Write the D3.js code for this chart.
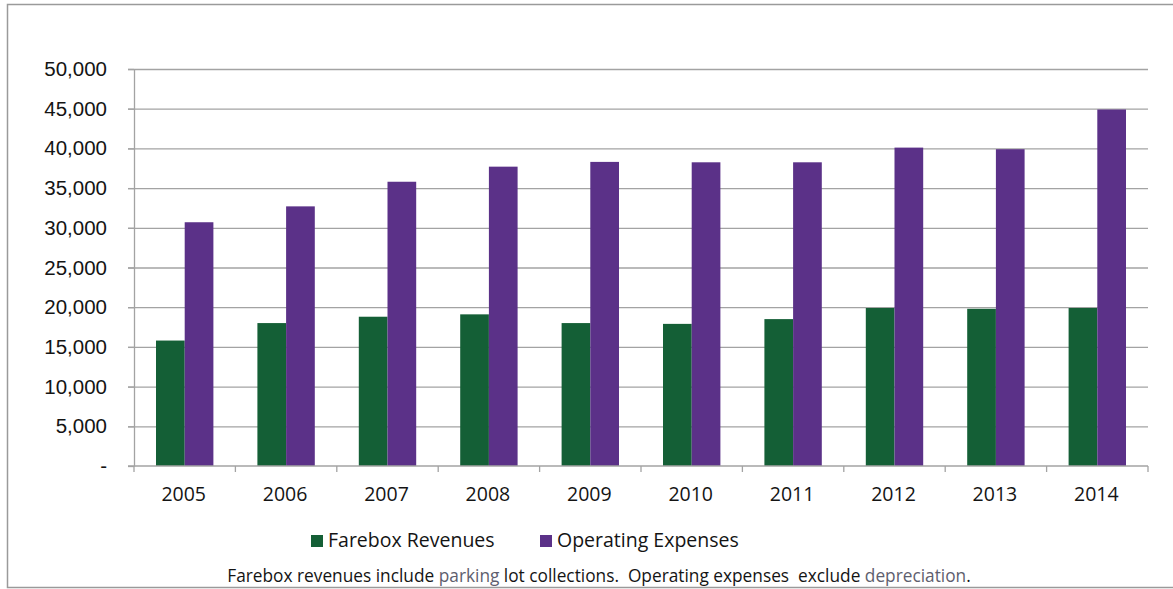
<!DOCTYPE html>
<html>
<head>
<meta charset="utf-8">
<script src="https://cdn.jsdelivr.net/npm/d3@7"></script>
<style>
  html, body { margin: 0; padding: 0; background: #fff; }
  svg { display: block; font-family: "Open Sans", "Noto Sans", sans-serif; }
  .axis text { fill: #141414; font-size: 19.5px; }
  .axis.y text { font-size: 20.5px; }
  .axis path, .axis line { stroke: #a3a3a3; stroke-width: 1.3; }
  .grid line { stroke: #a3a3a3; stroke-width: 1.3; }
  .grid path { display: none; }
  .foot { white-space: pre; }
</style>
</head>
<body>
<svg id="chart" width="1173" height="589"></svg>
<script>
// ── Data ──────────────────────────────────────────────────────────────────────
const years     = ["2005", "2006", "2007", "2008", "2009", "2010", "2011", "2012", "2013", "2014"];
const seriesNames = ["Farebox Revenues", "Operating Expenses"];
const farebox   = [15800, 18000, 18800, 19100, 18000, 17900, 18500, 19900, 19800, 19900];
const opex      = [30700, 32700, 35800, 37700, 38300, 38250, 38250, 40100, 39900, 44900];
const yTicks    = [0, 5000, 10000, 15000, 20000, 25000, 30000, 35000, 40000, 45000, 50000];
const colors    = ["#145f36", "#5b3188"];
const footnote  = ["Farebox revenues include ", "parking", " lot collections.  Operating expenses  exclude ", "depreciation", "."];

// ── Layout ────────────────────────────────────────────────────────────────────
const svg = d3.select("#chart");
const M = { left: 134, right: 1148, top: 69, bottom: 466 };

// outer frame (scanned page border)
svg.append("path")
  .attr("d", "M1173,4.5 H7.5 V587.5 H1173")
  .attr("fill", "none")
  .attr("stroke", "#9a9a9a")
  .attr("stroke-width", 1.5);

const x0 = d3.scaleBand()
  .domain(years)
  .range([M.left, M.right])
  .paddingInner(0.434)
  .paddingOuter(0.217);

const x1 = d3.scaleBand()
  .domain(seriesNames)
  .range([0, x0.bandwidth()]);

const y = d3.scaleLinear()
  .domain([0, 50000])
  .range([M.bottom, M.top]);

// gridlines
svg.append("g")
  .attr("class", "grid")
  .attr("transform", `translate(${M.right},0)`)
  .call(d3.axisLeft(y).tickValues(yTicks.slice(1)).tickSize(M.right - M.left + 6).tickFormat(""));

// bars
const rows = years.map((yr, i) => ({ year: yr, values: [farebox[i], opex[i]] }));

svg.append("g")
  .selectAll("g").data(rows).join("g")
  .attr("transform", d => `translate(${x0(d.year)},0)`)
  .selectAll("rect").data(d => d.values.map((v, k) => ({ key: seriesNames[k], v, k })))
  .join("rect")
  .attr("x", d => x1(d.key))
  .attr("y", d => y(d.v))
  .attr("width", x1.bandwidth())
  .attr("height", d => y(0) - y(d.v))
  .attr("fill", d => colors[d.k]);

// y axis
svg.append("g")
  .attr("class", "axis y")
  .attr("transform", `translate(${M.left},0)`)
  .call(d3.axisLeft(y)
    .tickValues(yTicks)
    .tickSize(6)
    .tickSizeOuter(0)
    .tickPadding(21)
    .tickFormat(d => d === 0 ? "-" : d3.format(",")(d)));

// x axis: baseline + boundary ticks + labels
const xAxis = svg.append("g").attr("class", "axis");
xAxis.append("line")
  .attr("x1", M.left - 6).attr("x2", M.right)
  .attr("y1", y(0)).attr("y2", y(0));
xAxis.selectAll("line.tick").data(d3.range(years.length + 1)).join("line")
  .attr("class", "tick")
  .attr("x1", i => M.left + i * x0.step())
  .attr("x2", i => M.left + i * x0.step())
  .attr("y1", y(0)).attr("y2", y(0) + 6);
xAxis.selectAll("text").data(years).join("text")
  .attr("x", d => x0(d) + x0.bandwidth() / 2 - 1)
  .attr("y", 501)
  .attr("text-anchor", "middle")
  .text(d => d);

// legend
const legendX = [311, 540];
const legend = svg.append("g")
  .selectAll("g").data(seriesNames).join("g")
  .attr("transform", (d, i) => `translate(${legendX[i]},535)`);
legend.append("rect")
  .attr("width", 12).attr("height", 12)
  .attr("fill", (d, i) => colors[i]);
legend.append("text")
  .attr("x", 17).attr("y", 12)
  .attr("fill", "#141414")
  .style("font-size", "19.5px")
  .text(d => d);

// footnote
svg.append("text")
  .attr("class", "foot")
  .attr("x", 599).attr("y", 582)
  .attr("text-anchor", "middle")
  .attr("fill", "#141414")
  .style("font-size", "17.3px")
  .selectAll("tspan").data(footnote).join("tspan")
  .attr("fill", (d, i) => i === 1 || i === 3 ? "#5e5e6e" : null)
  .text(d => d);
</script>
</body>
</html>
